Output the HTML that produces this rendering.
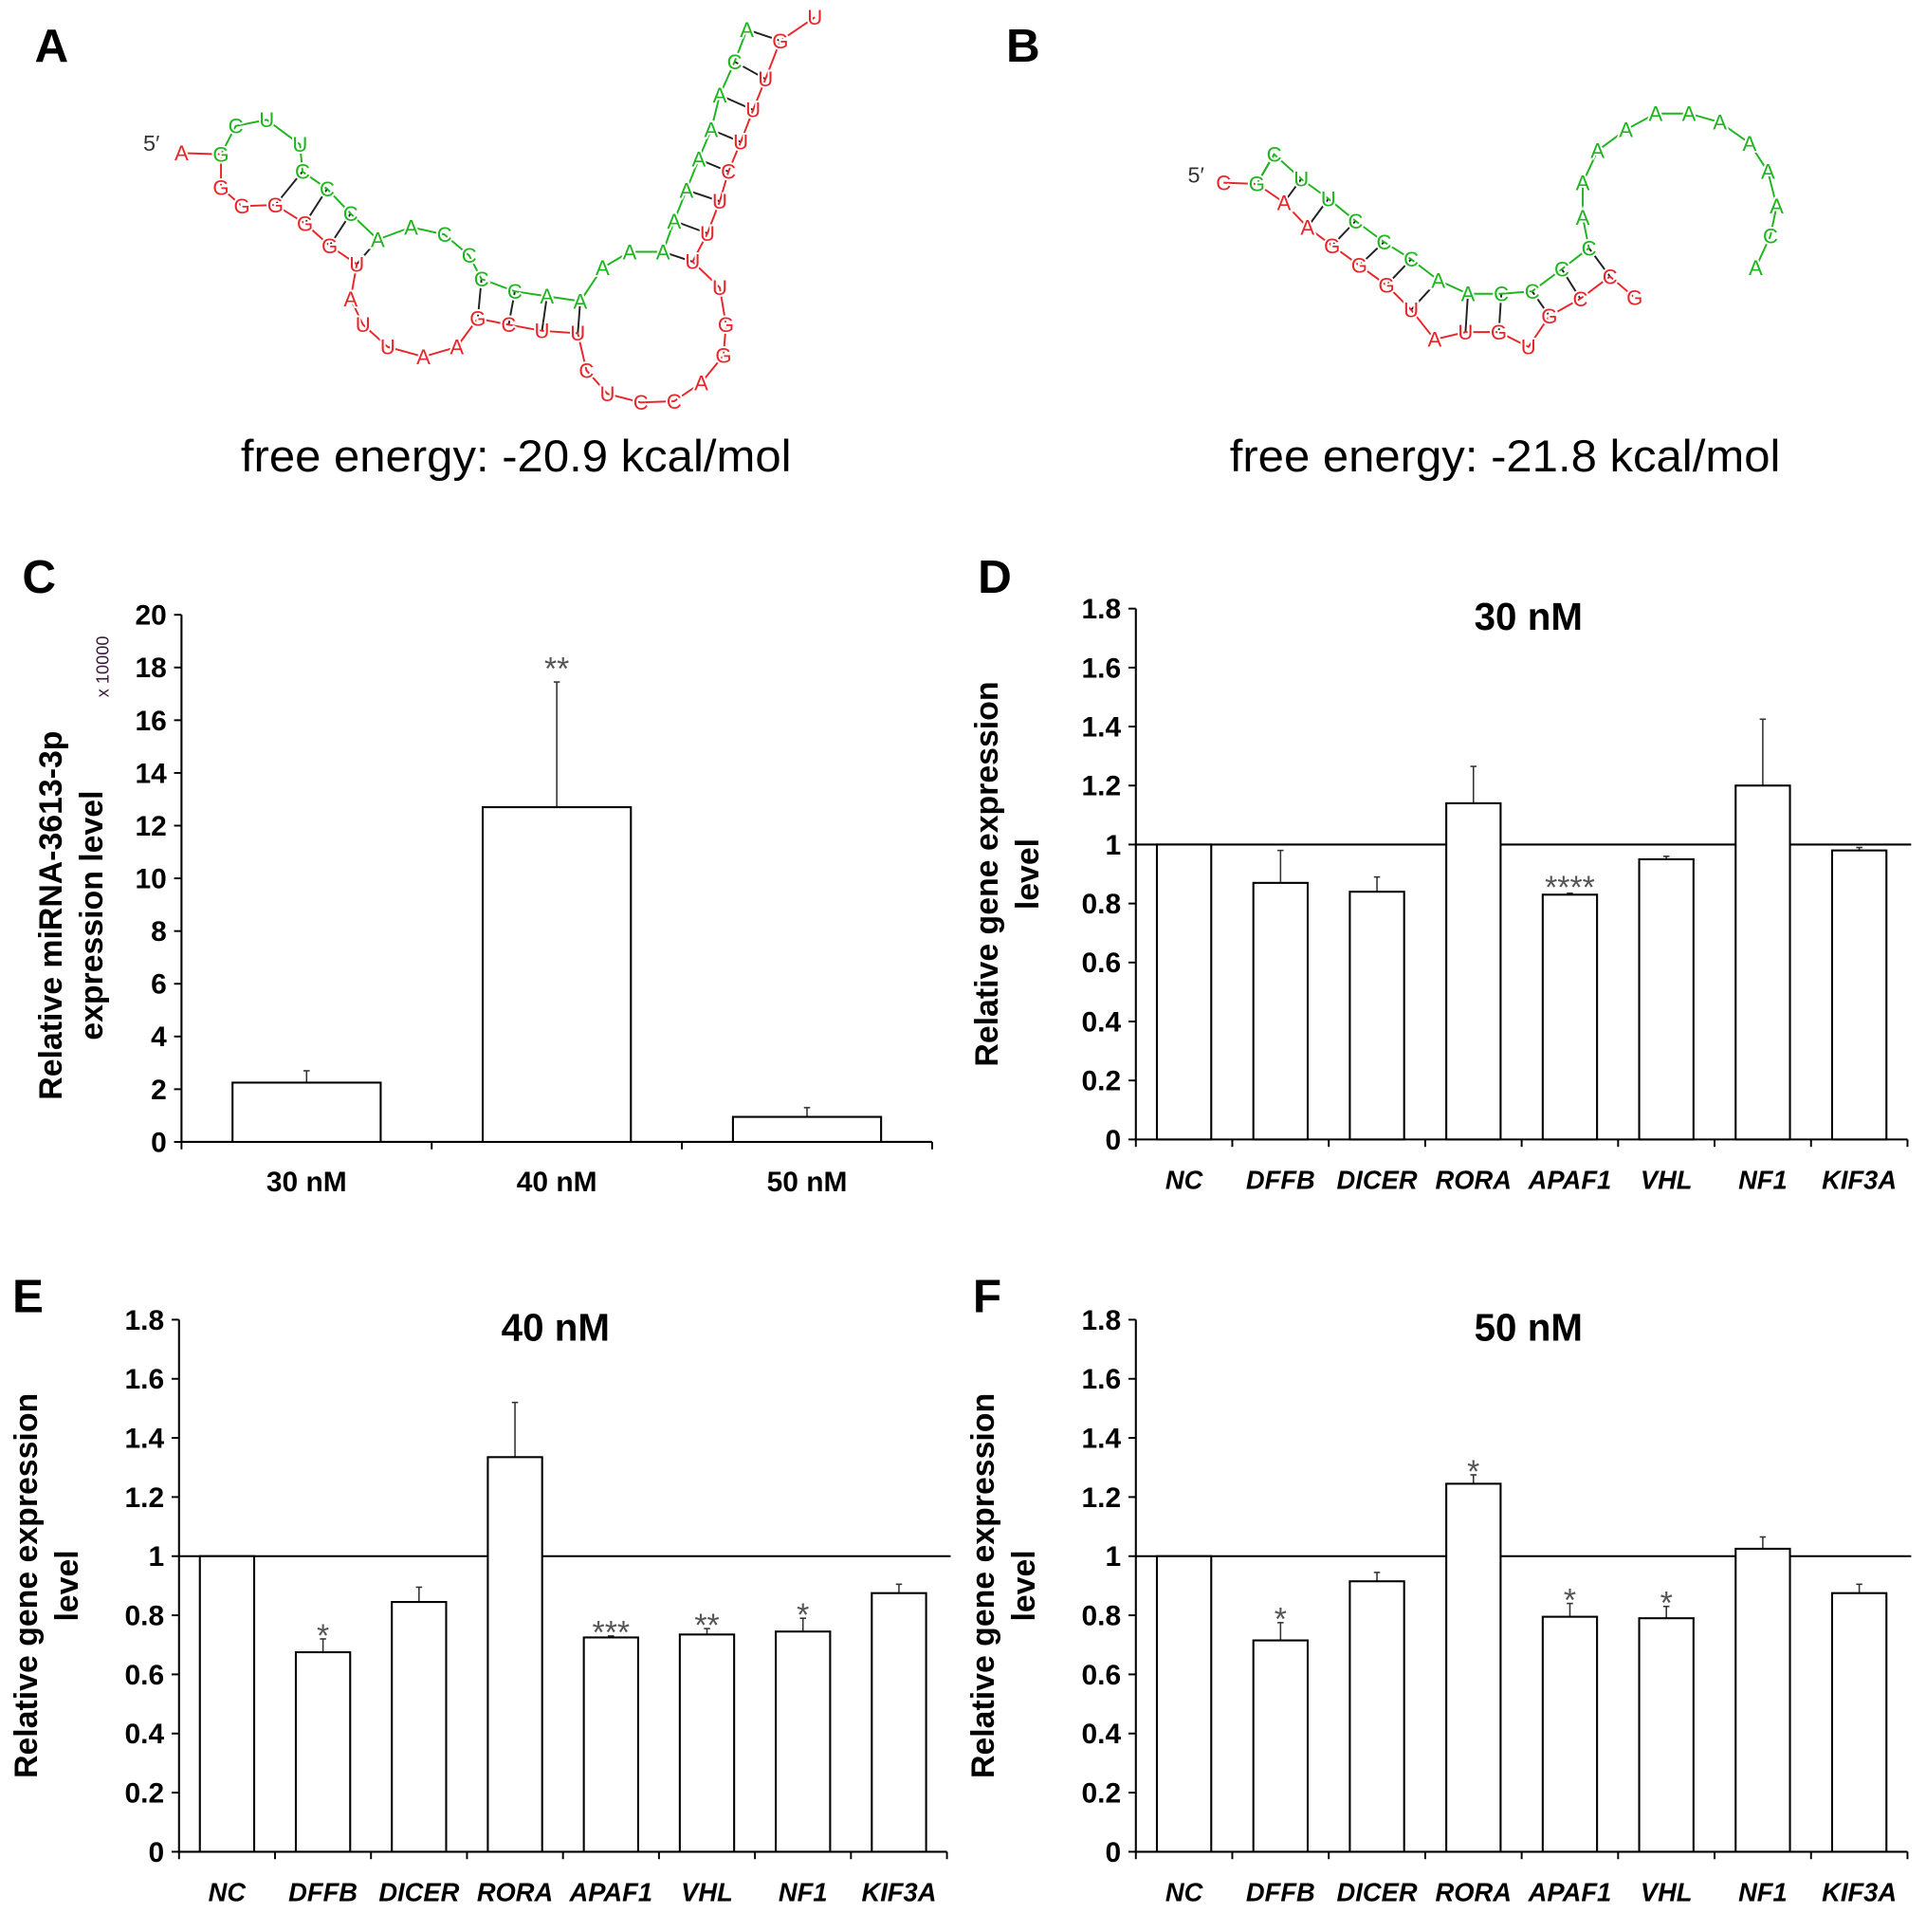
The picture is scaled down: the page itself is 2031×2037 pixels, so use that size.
<!DOCTYPE html>
<html><head><meta charset="utf-8"><style>
html,body{margin:0;padding:0;background:#fff;}
svg{display:block;font-family:"Liberation Sans",Arial,sans-serif;}
</style></head><body>
<svg id="fig" width="2031" height="2037" viewBox="0 0 1560 1565" preserveAspectRatio="none" xmlns="http://www.w3.org/2000/svg">
<rect width="1560" height="1565" fill="#fff"/>
<g font-weight="bold" font-size="38" fill="#000">
<text x="28" y="50">A</text>
<text x="815" y="50">B</text>
<text x="18" y="480">C</text>
<text x="792" y="480">D</text>
<text x="10" y="1063">E</text>
<text x="788" y="1063">F</text>
</g>
<text x="418" y="382" font-size="36" text-anchor="middle" textLength="446" lengthAdjust="spacingAndGlyphs">free energy: -20.9 kcal/mol</text>
<text x="1219" y="382" font-size="36" text-anchor="middle" textLength="446" lengthAdjust="spacingAndGlyphs">free energy: -21.8 kcal/mol</text>
<text x="116" y="122" font-size="18" fill="#333">5′</text>
<text x="962" y="148" font-size="18" fill="#333">5′</text>
<g id="rna"></g>
<g id="charts"></g>
</svg>
<script>
// ---------- RNA structures (diagram geometry) ----------
const rnaA_green=[["G",179,125],["C",191,102],["U",216,97],["U",243,117],["C",245,139],["C",265,153],["C",284,173],["A",306,194],["A",333,184],["C",360,190],["C",380,207],["C",390,226],["C",417,236],["A",443,240],["A",470,244],["A",488,217],["A",510,204],["A",537,204],["A",546,179],["A",556,154],["A",566,129],["A",576,105],["A",583,77],["C",595,50],["A",605,24]];
const rnaA_red=[["A",147,124],["G",179,125],["G",179,152],["G",196,167],["G",223,166],["G",247,181],["G",267,199],["U",289,214],["A",284,242],["U",294,263],["U",314,281],["A",343,289],["A",370,281],["G",387,258],["C",412,263],["U",439,268],["U",468,270],["C",475,300],["U",492,319],["C",519,326],["C",546,325],["A",568,310],["G",586,288],["G",588,263],["U",583,233],["U",561,212],["U",573,189],["U",583,163],["C",590,139],["U",600,115],["U",610,89],["U",620,64],["G",632,33],["U",660,14]];
const rnaA_pairs=[[4,4],[5,5],[6,6],[7,7],[11,13],[12,14],[13,15],[14,16],[17,25],[18,26],[19,27],[20,28],[21,29],[22,30],[23,31],[24,32]];
const rnaB_green=[["G",1018,149],["C",1032,125],["U",1054,145],["U",1076,161],["C",1098,179],["C",1121,196],["C",1143,210],["A",1165,227],["A",1189,238],["C",1216,238],["C",1241,236],["C",1265,218],["C",1287,201],["A",1282,176],["A",1282,148],["A",1294,122],["A",1317,105],["A",1341,92],["A",1368,92],["A",1393,99],["A",1417,116],["A",1432,139],["A",1439,167],["C",1434,191],["A",1422,217]];
const rnaB_red=[["C",991,148],["G",1018,149],["A",1040,164],["A",1059,184],["G",1079,199],["G",1101,215],["G",1123,231],["U",1143,251],["A",1162,275],["U",1187,269],["G",1214,269],["U",1238,281],["G",1255,256],["C",1280,242],["C",1304,224],["G",1324,241]];
const rnaB_pairs=[[1,1],[2,2],[3,3],[4,4],[5,5],[6,6],[7,7],[8,9],[9,10],[10,12],[11,13],[12,14]];
const NS="http://www.w3.org/2000/svg";
function mk(tag,attrs,parent){const e=document.createElementNS(NS,tag);for(const k in attrs)e.setAttribute(k,attrs[k]);parent.appendChild(e);return e;}
const rna=document.getElementById('rna');
function drawStrand(pts,color,name){
  const pl=mk('polyline',{points:pts.map(p=>p[1]+','+p[2]).join(' '),fill:'none',stroke:color,'stroke-width':1.5},rna);
  
  
  pts.forEach(p=>{
    const t=mk('text',{x:p[1],y:p[2]+6,'font-size':17,'text-anchor':'middle',fill:color,stroke:'#fff','stroke-width':3,'paint-order':'stroke'},rna);
    t.textContent=p[0];
    
    
  });
}
function drawPairs(g,r,pairs,name){
  pairs.forEach(pp=>{const a=g[pp[0]],b=r[pp[1]];if(!a||!b)return;
    const l=mk('line',{x1:a[1],y1:a[2],x2:b[1],y2:b[2],stroke:'#222','stroke-width':1.5},rna);
    
    });
}
drawPairs(rnaA_green,rnaA_red,rnaA_pairs,'structure-a');
drawPairs(rnaB_green,rnaB_red,rnaB_pairs,'structure-b');
drawStrand(rnaA_red,'#e8262a','structure-a-target');
drawStrand(rnaA_green,'#1fb51f','structure-a-mirna');
drawStrand(rnaB_red,'#e8262a','structure-b-target');
drawStrand(rnaB_green,'#1fb51f','structure-b-mirna');

// ---------- Chart data ----------
const cCats=["30 nM","40 nM","50 nM"];
const cVals=[2.25,12.7,0.95];
const cErr=[2.7,17.45,1.3];
const cStars=["","**",""];
const cTicks=[0,2,4,6,8,10,12,14,16,18,20];
const geneCats=["NC","DFFB","DICER","RORA","APAF1","VHL","NF1","KIF3A"];
const dVals=[1.0,0.87,0.84,1.14,0.83,0.95,1.2,0.98];
const dErr=[1.0,0.98,0.89,1.265,0.835,0.96,1.425,0.99];
const dStars=["","","","","****","","",""];
const eVals=[1.0,0.675,0.845,1.335,0.725,0.735,0.745,0.875];
const eErr=[1.0,0.72,0.895,1.52,0.73,0.755,0.79,0.905];
const eStars=["","*","","","***","**","*",""];
const fVals=[1.0,0.715,0.915,1.245,0.795,0.79,1.025,0.875];
const fErr=[1.0,0.775,0.945,1.275,0.84,0.83,1.065,0.905];
const fStars=["","*","","*","*","*","",""];
const geneTicks=[0,0.2,0.4,0.6,0.8,1,1.2,1.4,1.6,1.8];

const charts=document.getElementById('charts');
function chart(o){
  const g=mk('g',{},charts);
  
  
  const ymax=o.ticks[o.ticks.length-1];
  const y=v=>o.y0-(v/ymax)*(o.y0-o.ytop);
  const n=o.cats.length, slot=(o.x1-o.x0)/n;
  const xc=i=>o.x0+slot*(i+0.5);
  let a=mk('line',{x1:o.x0,y1:o.ytop,x2:o.x0,y2:o.y0,stroke:'#000','stroke-width':1.6},g);
  
  a=mk('line',{x1:o.x0-1,y1:o.y0,x2:o.x1,y2:o.y0,stroke:'#000','stroke-width':1.6},g);
  
  o.ticks.forEach(t=>{
    const tk=mk('line',{x1:o.x0-6,y1:y(t),x2:o.x0,y2:y(t),stroke:'#000','stroke-width':1.5},g);
    
    const tl=mk('text',{x:o.x0-12,y:y(t)+8,'font-size':23,'font-weight':'bold','text-anchor':'end'},g);
    tl.textContent=String(t);
    
  });
  for(let i=0;i<=n;i++){
    const tk=mk('line',{x1:o.x0+slot*i,y1:o.y0,x2:o.x0+slot*i,y2:o.y0+6,stroke:'#000','stroke-width':1.5},g);
    
  }
  if(o.ref!==undefined){
    const r=mk('line',{x1:o.x0,y1:y(o.ref),x2:o.x1+3,y2:y(o.ref),stroke:'#000','stroke-width':1.6},g);
    
  }
  o.cats.forEach((c,i)=>{
    const bw=o.bw, cx=xc(i);
    const eb=mk('line',{x1:cx,y1:y(o.vals[i]),x2:cx,y2:y(o.err[i]),stroke:'#333','stroke-width':1.2},g);
    
    const cap=mk('line',{x1:cx-2.5,y1:y(o.err[i]),x2:cx+2.5,y2:y(o.err[i]),stroke:'#333','stroke-width':1.2},g);
    
    const b=mk('rect',{x:cx-bw/2,y:y(o.vals[i]),width:bw,height:o.y0-y(o.vals[i]),fill:'#fff',stroke:'#000','stroke-width':1.6},g);
    
    const lb=mk('text',{x:cx,y:o.y0+40,'font-size':o.catSize,'font-weight':'bold','font-style':o.italic?'italic':'normal','text-anchor':'middle'},g);
    lb.textContent=c;
    
    if(o.stars[i]){
      const s=mk('text',{x:cx,y:y(o.err[i])-6+(o.starDy||0),'font-size':26,'text-anchor':'middle',fill:'#555'},g);
      s.textContent=o.stars[i];
      
    }
  });
  if(o.title){
    const t=mk('text',{x:o.titleX,y:o.ytop+17,'font-size':31,'font-weight':'bold','text-anchor':'middle'},g);
    t.textContent=o.title;
    
  }
  const yc=(o.y0+o.ytop)/2+(o.labDy||0);
  o.ylab.forEach((ln,k)=>{
    const lx=o.labX+k*33;
    const t=mk('text',{x:lx,y:yc,'font-size':26,'font-weight':'bold','text-anchor':'middle',transform:'rotate(-90 '+lx+' '+yc+')'},g);
    t.textContent=ln;
    
  });
}
chart({name:'chart-c',cats:cCats,vals:cVals,err:cErr,stars:cStars,ticks:cTicks,x0:147,x1:755,y0:925,ytop:498,bw:120,catSize:23,italic:false,ylab:["Relative miRNA-3613-3p","expression level"],labX:50,labDy:30,starDy:4});
chart({name:'chart-d-30nm',cats:geneCats,vals:dVals,err:dErr,stars:dStars,ticks:geneTicks,x0:920,x1:1545,y0:923,ytop:493,bw:44,catSize:21,italic:true,ref:1,title:"30 nM",titleX:1238,ylab:["Relative gene expression","level"],labX:808,labDy:0,starDy:10});
chart({name:'chart-e-40nm',cats:geneCats,vals:eVals,err:eErr,stars:eStars,ticks:geneTicks,x0:145,x1:767,y0:1500,ytop:1069,bw:44,catSize:21,italic:true,ref:1,title:"40 nM",titleX:450,ylab:["Relative gene expression","level"],labX:30,labDy:0,starDy:12});
chart({name:'chart-f-50nm',cats:geneCats,vals:fVals,err:fErr,stars:fStars,ticks:geneTicks,x0:920,x1:1545,y0:1500,ytop:1069,bw:44,catSize:21,italic:true,ref:1,title:"50 nM",titleX:1238,ylab:["Relative gene expression","level"],labX:805,labDy:0,starDy:12});
const mult=mk('text',{x:88,y:540,'font-size':14,fill:'#3a1a3a',transform:'rotate(-90 88 540)','text-anchor':'middle'},charts);
mult.textContent='x 10000';


</script>
</body></html>
